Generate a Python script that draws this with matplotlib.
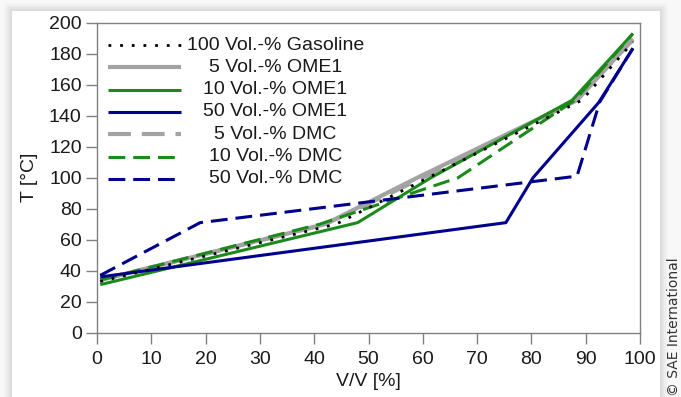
import matplotlib.pyplot as plt
from matplotlib.patches import Rectangle

# distillation curves: volume evaporated [%] vs. temperature [°C]
vol_gasoline = [0.6, 44, 61, 89.3, 98.7]
temp_gasoline = [33, 70, 100, 150, 187.5]

vol_ome1_5 = [0.6, 42, 59, 88.4, 98.7]
temp_ome1_5 = [34, 70, 100, 150, 189.5]
vol_ome1_10 = [0.6, 48, 61.5, 87.5, 98.7]
temp_ome1_10 = [31, 71, 100, 150, 193]
vol_ome1_50 = [0.6, 75.3, 80.3, 92.4, 98.7]
temp_ome1_50 = [36, 71, 100, 148.5, 183.5]

vol_dmc_5 = [0.6, 42, 60, 88.2, 98.7]
temp_dmc_5 = [34, 70, 100, 150, 189]
vol_dmc_10 = [0.6, 41, 66.5, 88, 98.7]
temp_dmc_10 = [34, 70, 100, 150, 193]
vol_dmc_50 = [0.6, 19, 88.4, 92.6, 98.7]
temp_dmc_50 = [37, 71, 101, 149, 183.5]

x_ticks = list(range(0, 101, 10))
y_ticks = list(range(0, 201, 20))

GREY = "#a3a3a3"
GREEN = "#1b8a1b"
BLUE = "#00008c"
DASH = (0, (5.5, 2.6))
FS = 14

series = [
    ("5 Vol.-% OME1", vol_ome1_5, temp_ome1_5, dict(color=GREY, lw=3.0, ls="-")),
    ("5 Vol.-% DMC", vol_dmc_5, temp_dmc_5, dict(color=GREY, lw=3.0, ls=DASH)),
    ("10 Vol.-% OME1", vol_ome1_10, temp_ome1_10, dict(color=GREEN, lw=2.2, ls="-")),
    ("10 Vol.-% DMC", vol_dmc_10, temp_dmc_10, dict(color=GREEN, lw=2.2, ls=DASH)),
    ("50 Vol.-% OME1", vol_ome1_50, temp_ome1_50, dict(color=BLUE, lw=2.2, ls="-")),
    ("50 Vol.-% DMC", vol_dmc_50, temp_dmc_50, dict(color=BLUE, lw=2.2, ls=DASH)),
    ("100 Vol.-% Gasoline", vol_gasoline, temp_gasoline,
     dict(color="black", lw=2.0, ls=(0, (1, 3.2)))),
]
styles = {label: style for label, _, _, style in series}
legend_order = ["100 Vol.-% Gasoline", "5 Vol.-% OME1", "10 Vol.-% OME1",
                "50 Vol.-% OME1", "5 Vol.-% DMC", "10 Vol.-% DMC", "50 Vol.-% DMC"]

plt.rcParams["font.family"] = ["Liberation Sans", "DejaVu Sans"]

fig = plt.figure(figsize=(6.81, 3.97), dpi=100, facecolor="#f8f8f8")

# white card with a soft shadow
for i, a in enumerate([0.02, 0.025, 0.03, 0.035]):
    pad = (4 - i) * 2.0
    fig.patches.append(Rectangle(((12 - pad) / 681, -0.1), (648 + 2 * pad) / 681,
                                 (386 + 0.1 * 397 + pad) / 397, transform=fig.transFigure,
                                 facecolor="black", alpha=a, edgecolor="none", zorder=-3))
fig.patches.append(Rectangle((12 / 681, -0.1), 648 / 681, (386 + 0.1 * 397) / 397,
                             transform=fig.transFigure, facecolor="white",
                             edgecolor="none", zorder=-2))

ax = fig.add_axes([97 / 681, 1 - 332.7 / 397, 543 / 681, 310 / 397])
ax.set_zorder(5)
ax.set_facecolor("white")

for label, x, y, style in series:
    ax.plot(x, y, solid_capstyle="butt", dash_capstyle="butt", **style)

ax.set_xlim(0, 100)
ax.set_ylim(0, 200)
ax.set_xticks(x_ticks)
ax.set_yticks(y_ticks)
ax.tick_params(direction="out", length=8, width=1, color="#808080",
               labelsize=FS, labelcolor="#1a1a1a")
ax.tick_params(axis="y", pad=3)
ax.tick_params(axis="x", pad=5)
for sp in ax.spines.values():
    sp.set_color("#808080")
    sp.set_linewidth(1)

ax.set_xlabel("V/V [%]", fontsize=FS, color="#1a1a1a", labelpad=4)
ax.set_ylabel("T [°C]", fontsize=FS, color="#1a1a1a", labelpad=8)

# legend: sample line on the left, label centred in its own column
for i, label in enumerate(legend_order):
    yy = (332.7 - (45 + i * 22.3)) / 310
    ax.plot([(108 - 97) / 543, (181 - 97) / 543], [yy, yy], transform=ax.transAxes,
            solid_capstyle="butt", dash_capstyle="butt", clip_on=False,
            **styles[label])
    ax.text((275.5 - 97) / 543, yy, label, transform=ax.transAxes, ha="center",
            va="center", fontsize=FS, color="#1a1a1a")

fig.text(674 / 681, 1 / 397, "© SAE International", rotation=90,
         ha="center", va="bottom", fontsize=10, color="#333333",
         family="DejaVu Sans")

fig.savefig("out.png", dpi=100, facecolor=fig.get_facecolor())
